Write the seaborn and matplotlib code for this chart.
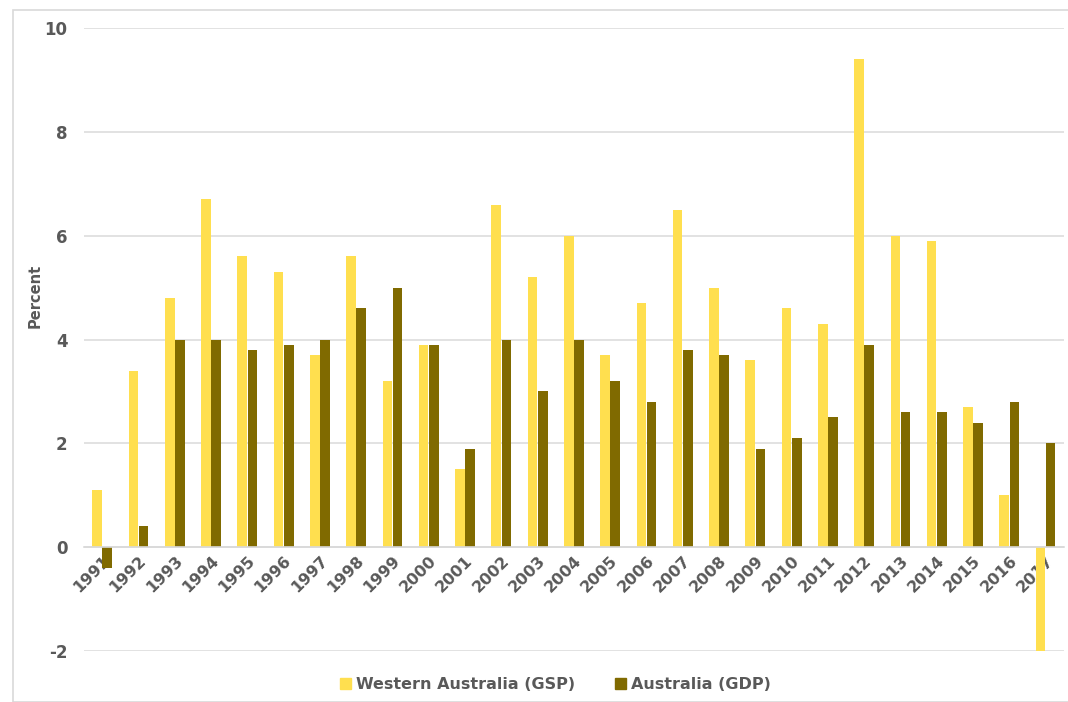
import pandas as pd
import matplotlib.pyplot as plt
import matplotlib.patches as mpatches
import seaborn as sns

# ---------- DATA -------------------------------------------------------------------
years = [str(y) for y in range(1991, 2018)]
wa_gsp = [1.1, 3.4, 4.8, 6.7, 5.6, 5.3, 3.7, 5.6, 3.2, 3.9, 1.5, 6.6, 5.2, 6.0,
          3.7, 4.7, 6.5, 5.0, 3.6, 4.6, 4.3, 9.4, 6.0, 5.9, 2.7, 1.0, -2.0]
aus_gdp = [-0.4, 0.4, 4.0, 4.0, 3.8, 3.9, 4.0, 4.6, 5.0, 3.9, 1.9, 4.0, 3.0, 4.0,
           3.2, 2.8, 3.8, 3.7, 1.9, 2.1, 2.5, 3.9, 2.6, 2.6, 2.4, 2.8, 2.0]
series_names = ["Western Australia (GSP)", "Australia (GDP)"]
colors = ["#FFDF4F", "#806A00"]

df = pd.DataFrame({"Year": years, series_names[0]: wa_gsp, series_names[1]: aus_gdp})
long_df = df.melt(id_vars="Year", var_name="Series", value_name="Percent")

# ---------- PLOT -------------------------------------------------------------------
sns.set_style("white")
plt.rcParams["font.family"] = ["DejaVu Sans"]
plt.rcParams["axes.unicode_minus"] = False
text_col = "#595959"

fig = plt.figure(figsize=(10.68, 7.02), dpi=100)
ax = fig.add_axes([0.0787, 0.0726, 0.9173, 0.8874])

sns.barplot(data=long_df, x="Year", y="Percent", hue="Series", palette=colors,
            width=0.56, gap=0.05, ax=ax, legend=False, saturation=1, linewidth=0)

ax.set_ylim(-2, 10)
ax.set_xlim(-0.5, len(years) - 0.5)
ax.set_yticks(range(-2, 11, 2))
ax.yaxis.grid(True, color="#DDDDDD", linewidth=1.2)
ax.set_axisbelow(True)
for s in ["top", "right", "left"]:
    ax.spines[s].set_visible(False)
ax.spines["bottom"].set_position(("data", 0))
ax.spines["bottom"].set_color("#D9D9D9")
ax.spines["bottom"].set_linewidth(1.2)

# category ticks between groups, Excel style
ax.set_xticks([i - 0.5 for i in range(len(years) + 1)], minor=True)
ax.tick_params(axis="x", which="minor", length=6, color="#D9D9D9", width=1.2)
ax.tick_params(axis="x", which="major", length=0, pad=4)
ax.set_xticklabels(years, rotation=45, ha="right", rotation_mode="anchor",
                   fontsize=11.5, fontweight="bold", color=text_col)
ax.tick_params(axis="y", length=0, pad=12)
plt.setp(ax.get_yticklabels(), fontsize=12, fontweight="bold", color=text_col)
ax.set_xlabel("")
ax.set_ylabel("Percent", fontsize=10.5, fontweight="bold", color=text_col)
ax.yaxis.set_label_coords(-0.042, 0.57)

handles = [mpatches.Patch(color=c, label=n) for c, n in zip(colors, series_names)]
fig.legend(handles=handles, loc="center", bbox_to_anchor=(0.52, 0.025), ncol=2,
           frameon=False, handlelength=0.7, handleheight=0.7, handletextpad=0.3,
           columnspacing=2.5, prop={"size": 11.5, "weight": "bold"},
           labelcolor=text_col)

# light frame around the chart area
fig.patches.append(mpatches.Rectangle((13 / 1068, 0.0), 1.0, 1 - 10 / 702,
                                      transform=fig.transFigure, fill=False,
                                      edgecolor="#D9D9D9", linewidth=1.2))

fig.savefig("out.png", dpi=100)
